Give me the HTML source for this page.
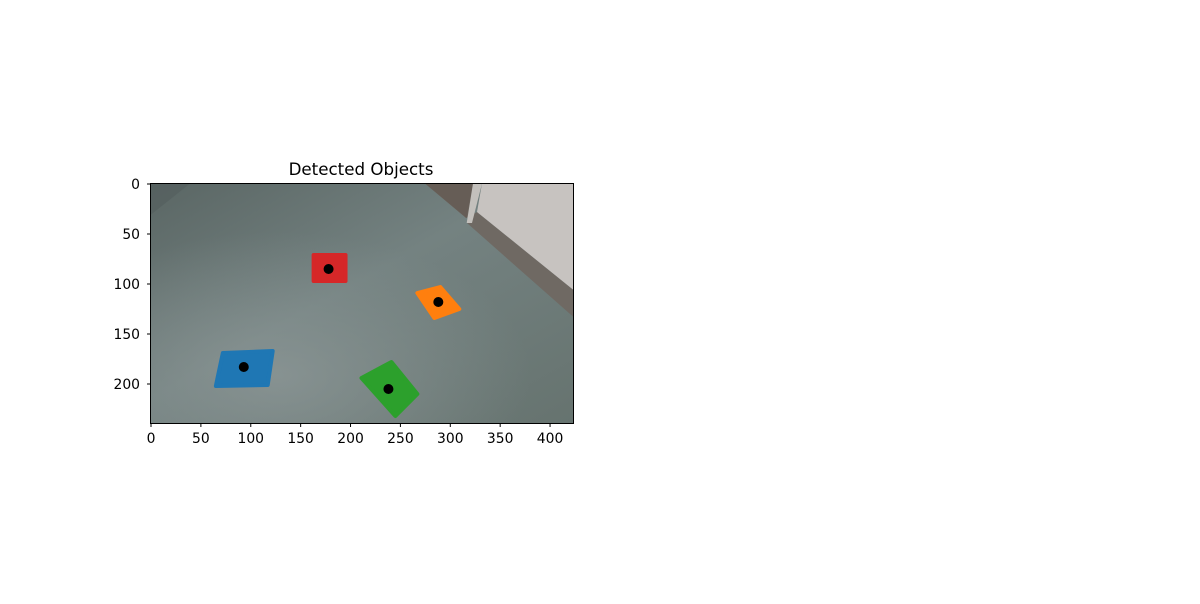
<!DOCTYPE html>
<html><head><meta charset="utf-8"><style>
body{margin:0;background:#fff;width:1200px;height:600px;overflow:hidden;font-family:"DejaVu Sans","Liberation Sans",sans-serif}
</style></head><body>
<svg width="1200" height="600" xmlns="http://www.w3.org/2000/svg" font-family="DejaVu Sans, Liberation Sans, sans-serif">
<defs>
<linearGradient id="floor" x1="0" y1="0" x2="1" y2="1">
<stop offset="0" stop-color="#5a6664"/><stop offset="0.45" stop-color="#748281"/><stop offset="1" stop-color="#66736f"/>
</linearGradient>
<radialGradient id="light" cx="0.3" cy="0.8" r="0.6">
<stop offset="0" stop-color="#909a9a" stop-opacity="0.7"/><stop offset="1" stop-color="#8a9695" stop-opacity="0"/>
</radialGradient>
<clipPath id="clip"><rect x="150.5" y="183.5" width="423" height="240"/></clipPath>
</defs>
<text x="361" y="175" text-anchor="middle" font-size="16.7" fill="#000">Detected Objects</text>
<g id="plot" clip-path="url(#clip)">
<rect x="150.5" y="183.5" width="423" height="240" fill="url(#floor)"/>
<rect x="150.5" y="183.5" width="423" height="240" fill="url(#light)"/>
<polygon points="150.5,183.5 190,183.5 150.5,215" fill="#545e5d" opacity="0.6"/>
<polygon points="425,183.5 474,183.5 467,223 573.5,317 573.5,290 477,212 466,218" fill="#6f6963"/>
<polygon points="425,183.5 473,183.5 466.7,218.3" fill="#665d56"/>
<polygon points="473,183.5 482,183.5 472,223 466.7,223" fill="#c3c0bc"/>
<polygon points="482,183.5 573.5,183.5 573.5,290 477,212" fill="#c7c3c0"/>
<g id="marks"></g>
</g>
<rect x="150.5" y="183.5" width="423" height="240" fill="none" stroke="#000" stroke-width="1"/>
<g id="xticks"></g><g id="yticks"></g>
</svg>
<script>
const NS='http://www.w3.org/2000/svg';
const xTicks=[0,50,100,150,200,250,300,350,400];
const yTicks=[0,50,100,150,200];
const objNames=['blue','orange','green','red'];
const objColors=['#1f77b4','#ff7f0e','#2ca02c','#d62728'];
const objPolys=[
 [[72,169],[122,167],[117,201],[65,202]],
 [[267,109],[290,103],[309,125],[284,134]],
 [[211,194],[241,178],[267,210],[245,232]],
 [[163,71],[195,71],[195,97],[163,97]]
];
const centroidX=[93,288,238,178];
const centroidY=[183,118,205,85];
const X0=150.5,Y0=183.5,S=423/424;
const sx=v=>X0+(v+0.5)*S, sy=v=>Y0+(v+0.5);
const marks=document.getElementById('marks');
objPolys.forEach((p,i)=>{
 const pg=document.createElementNS(NS,'polygon');
 pg.setAttribute('points',p.map(q=>sx(q[0])+','+sy(q[1])).join(' '));
 pg.setAttribute('fill',objColors[i]);pg.setAttribute('stroke',objColors[i]);
 pg.setAttribute('stroke-width','4');pg.setAttribute('stroke-linejoin','round');
 
 
 marks.appendChild(pg);
});
centroidX.forEach((cx,i)=>{
 const c=document.createElementNS(NS,'circle');
 c.setAttribute('cx',sx(cx));c.setAttribute('cy',sy(centroidY[i]));c.setAttribute('r','5');c.setAttribute('fill','#000');
 
 
 marks.appendChild(c);
});
const xg=document.getElementById('xticks');
xTicks.forEach(v=>{
 const x=sx(v);
 const l=document.createElementNS(NS,'line');
 l.setAttribute('x1',x);l.setAttribute('x2',x);l.setAttribute('y1',423.5);l.setAttribute('y2',427);l.setAttribute('stroke','#000');
 
 
 xg.appendChild(l);
 const t=document.createElementNS(NS,'text');
 t.setAttribute('x',x);t.setAttribute('y',443);t.setAttribute('text-anchor','middle');t.setAttribute('font-size','13.9');
 t.textContent=v;
 
 
 xg.appendChild(t);
});
const yg=document.getElementById('yticks');
yTicks.forEach(v=>{
 const y=sy(v);
 const l=document.createElementNS(NS,'line');
 l.setAttribute('x1',147);l.setAttribute('x2',150.5);l.setAttribute('y1',y);l.setAttribute('y2',y);l.setAttribute('stroke','#000');
 
 
 yg.appendChild(l);
 const t=document.createElementNS(NS,'text');
 t.setAttribute('x',140);t.setAttribute('y',y+5);t.setAttribute('text-anchor','end');t.setAttribute('font-size','13.9');
 t.textContent=v;
 
 
 yg.appendChild(t);
});
</script>
</body></html>
